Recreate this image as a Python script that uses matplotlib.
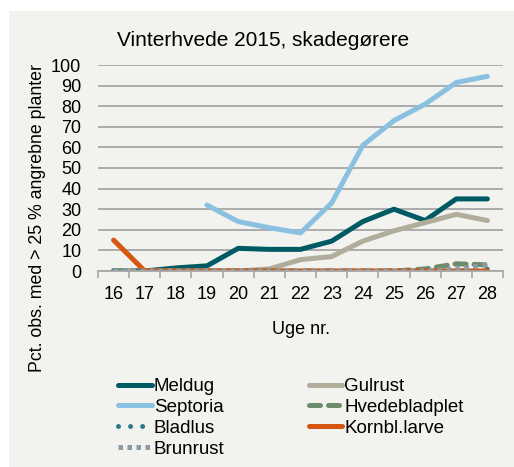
import matplotlib
matplotlib.use("Agg")
import matplotlib.pyplot as plt
import numpy as np
from matplotlib.patches import Rectangle

plt.rcParams['font.family'] = ['Liberation Sans', 'DejaVu Sans']

weeks = ["16", "17", "18", "19", "20", "21", "22", "23", "24", "25", "26", "27", "28"]
meldug = [0, 0, 1.5, 2.5, 11, 10.5, 10.5, 14.5, 24, 30, 24.5, 35, 35]
septoria = [np.nan, np.nan, np.nan, 32, 24, 21, 18.5, 33, 61, 73, 81, 91.5, 94.5]
gulrust = [0, 0, 0, 0, 0, 1, 5.5, 7, 14.5, 19.5, 23.5, 27.5, 24.5]
hvedebladplet = [0, 0, 0, 0, 0, 0, 0, 0, 0, 0, 1, 3.5, 3]
bladlus = [0, 0, 0, 0, 0, 0, 0, 0, 0, 0, 0, 0, 1]
kornbl = [15, 0, 0, 0, 0, 0, 0, 0, 0, 0, 0, 0, 0]
brunrust = [0, 0, 0, 0, 0, 0, 0, 0, 0, 0, 0, 1, 3]

W, H = 514, 467
fig = plt.figure(figsize=(W / 100, H / 100), dpi=100)
fig.patch.set_facecolor("white")
fig.patches.append(Rectangle((9 / W, 0), 1 - 9 / W, 1 - 11 / H, transform=fig.transFigure,
                             facecolor="#f2f2ee", edgecolor="none", zorder=-10))

ax = fig.add_axes([98 / W, 1 - 271 / H, (503 - 98) / W, (271 - 65) / H])
ax.set_facecolor("none")
x = np.arange(len(weeks))
lw = 3.6
l_meldug, = ax.plot(x, meldug, color="#005a64", lw=lw, label="Meldug", solid_capstyle="round")
l_sept, = ax.plot(x, septoria, color="#8bc1e0", lw=lw, label="Septoria", solid_capstyle="round")
l_gul, = ax.plot(x, gulrust, color="#b0ad9b", lw=lw, label="Gulrust", solid_capstyle="round")
l_hved, = ax.plot(x, hvedebladplet, color="#6e8b6b", lw=lw, label="Hvedebladplet",
                  dashes=(2.2, 1.6), dash_capstyle="round")
l_blad, = ax.plot(x, bladlus, color="#2e7a8a", lw=lw, label="Bladlus",
                  dashes=(0.01, 2.4), dash_capstyle="round")
l_korn, = ax.plot(x, kornbl, color="#d4560f", lw=lw, label="Kornbl.larve", solid_capstyle="round")
l_brun, = ax.plot(x, brunrust, color="#8a9ba5", lw=lw, label="Brunrust",
                  dashes=(0.9, 0.9), dash_capstyle="butt")

ax.set_xlim(-0.5, len(weeks) - 0.5)
ax.set_ylim(0, 100)
ax.set_yticks(np.arange(0, 101, 10))
ax.set_xticks(x)
ax.set_xticklabels(weeks)
ax.set_xticks(np.arange(-0.5, len(weeks), 1), minor=True)
ax.tick_params(axis="x", which="major", length=0, labelsize=13, pad=11)
ax.tick_params(axis="x", which="minor", length=5, color="#a6a6a6", width=1.2)
ax.tick_params(axis="y", length=0, labelsize=13, pad=12)
ax.grid(axis="y", color="#a6a6a6", lw=1.3)
ax.set_axisbelow(True)
for s in ["top", "right", "left"]:
    ax.spines[s].set_visible(False)
ax.spines["bottom"].set_color("#a6a6a6")
ax.spines["bottom"].set_linewidth(1.3)

fig.text(263 / W, 1 - 40 / H, "Vinterhvede 2015, skadegørere", ha="center", va="center", fontsize=15)
fig.text(301 / W, 1 - 329 / H, "Uge nr.", ha="center", va="center", fontsize=13)
fig.text(38 / W, 1 - 218 / H, "Pct. obs. med > 25 % angrebne planter", rotation=90,
         ha="center", va="center", fontsize=12.8)

handles = [l_meldug, l_sept, l_blad, l_brun, l_gul, l_hved, l_korn]
leg = fig.legend(handles=handles, labels=[h.get_label() for h in handles], ncol=2,
                 loc="upper left", bbox_to_anchor=(118 / W, 1 - 378 / H),
                 frameon=False, fontsize=13.5, handlelength=1.8, handletextpad=0.1,
                 columnspacing=4.5, labelspacing=0.2, borderaxespad=0, borderpad=0)

fig.savefig("out.png", dpi=100)
